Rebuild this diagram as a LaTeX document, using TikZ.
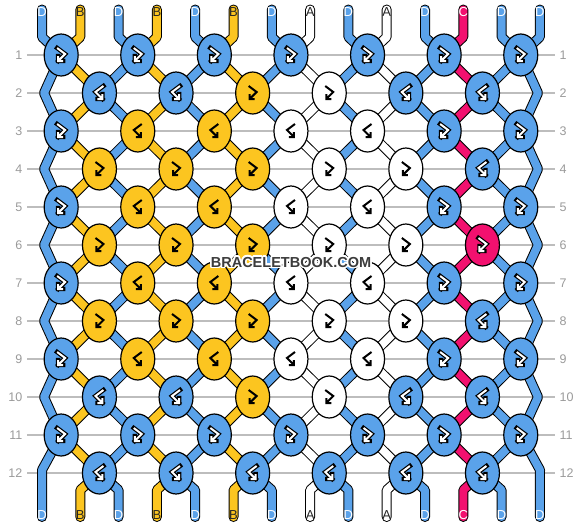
\documentclass[tikz,border=0pt]{standalone}
\usepackage{fontspec}
\setmainfont{Liberation Sans}
\usepackage{contour}
\contourlength{1.6pt}
\usetikzlibrary{shapes.geometric}
\pgfdeclarelayer{bg}
\pgfdeclarelayer{fg}
\pgfsetlayers{bg,main,fg}

\definecolor{strandD}{HTML}{5AA2EA}
\definecolor{strandB}{HTML}{FCC520}
\definecolor{strandA}{HTML}{FFFFFF}
\definecolor{strandC}{HTML}{F2116F}
\definecolor{gridgray}{HTML}{BDBDBD}
\definecolor{numgray}{HTML}{9A9A9A}
\definecolor{wmgray}{HTML}{3C3C3C}
% mark outline / mark stroke / end letter, per thread colour
\colorlet{moD}{black}\colorlet{miD}{white}\colorlet{txD}{white}
\colorlet{moC}{black}\colorlet{miC}{white}\colorlet{txC}{white}
\colorlet{moB}{strandB}\colorlet{miB}{black}\colorlet{txB}{black!85}
\colorlet{moA}{white}\colorlet{miA}{black}\colorlet{txA}{black!85}

\tikzset{
  knot/.style={ellipse, draw=black, line width=1.2pt, fill=strand#1,
    minimum width=34pt, minimum height=42pt, inner sep=0pt},
  strand/.style={draw=black, line width=1pt, double=strand#1,
    double distance=8pt, line cap=round, line join=round,
    shorten <=-3pt, shorten >=-1.5pt},
  endlabel/.style={font=\fontsize{13}{13}\selectfont, text=tx#1, inner sep=0pt},
  rownum/.style={font=\fontsize{12.5}{13}\selectfont, text=numgray,
    inner xsep=4.5pt, inner ysep=0pt},
  gridline/.style={gridgray, line width=1.3pt},
  markout/.style={draw=mo#1, line width=4.4pt, line join=miter, line cap=rect},
  markin/.style={draw=mi#1, line width=2pt, line join=miter},
  fb/.style={},
  bf/.style={xscale=-1},
  pics/knotmark/.style={code={
    \draw[markout=#1] (-4,-7) -- (4,-1) -- (-3,6) (-3,1) -- (-3,6) -- (2,6);
    \draw[markin=#1] (-4,-7) -- (4,-1) -- (-3,6) (-3,1) -- (-3,6) -- (2,6);
  }},
}

\begin{document}
\begin{tikzpicture}[x=1pt, y=-1pt]
\useasboundingbox (0,0) rectangle (582,528);

% row numbers and guide lines
\begin{pgfonlayer}{bg}
\foreach \r in {1,...,12} {
  \node[rownum, anchor=east] (rl-\r) at (27,17+38*\r) {\r};
  \node[rownum, anchor=west] (rr-\r) at (555,17+38*\r) {\r};
  \draw[gridline] (rl-\r) -- (rr-\r);
}
\end{pgfonlayer}

% knots, named by row and right thread
\begin{pgfonlayer}{fg}
\foreach \r/\row in {
  1/{1/D/fb,3/D/fb,5/D/fb,7/D/fb,9/D/fb,11/D/fb,13/D/fb},
  2/{2/D/bf,4/D/bf,6/B/fb,8/A/fb,10/D/bf,12/D/bf},
  3/{1/D/fb,3/B/bf,5/B/bf,7/A/bf,9/A/bf,11/D/fb,13/D/fb},
  4/{2/B/fb,4/B/fb,6/B/fb,8/A/fb,10/A/fb,12/D/bf},
  5/{1/D/fb,3/B/bf,5/B/bf,7/A/bf,9/A/bf,11/D/fb,13/D/fb},
  6/{2/B/fb,4/B/fb,6/B/fb,8/A/fb,10/A/fb,12/C/fb},
  7/{1/D/fb,3/B/bf,5/B/bf,7/A/bf,9/A/bf,11/D/fb,13/D/fb},
  8/{2/B/fb,4/B/fb,6/B/fb,8/A/fb,10/A/fb,12/D/bf},
  9/{1/D/fb,3/B/bf,5/B/bf,7/A/bf,9/A/bf,11/D/fb,13/D/fb},
  10/{2/D/bf,4/D/bf,6/B/fb,8/A/fb,10/D/bf,12/D/bf},
  11/{1/D/fb,3/D/fb,5/D/fb,7/D/fb,9/D/fb,11/D/fb,13/D/fb},
  12/{2/D/bf,4/D/bf,6/D/bf,8/D/bf,10/D/bf,12/D/bf}}
  \foreach \n/\c/\t in \row {
    \node[knot=\c] (k-\r-\n) at (22.85+38.3*\n,17+38*\r) {};
    \pic[\t] at (k-\r-\n) {knotmark=\c};
  }

% thread ends
\foreach \p/\c in {0/D,1/B,2/D,3/B,4/D,5/B,6/D,7/A,8/D,9/A,10/D,11/C,12/D,13/D} {
  \node[endlabel=\c] (t-\p) at (42+38.3*\p,12.5) {\c};
  \node[endlabel=\c] (b-\p) at (42+38.3*\p,515.5) {\c};
  \coordinate (tb-\p) at (42+38.3*\p,37);
  \coordinate (bb-\p) at (42+38.3*\p,490);
}

\node[font=\fontsize{14.5}{14}\selectfont\bfseries, text=wmgray] (wm) at (291,263)
  {\contour{white}{BRACELETBOOK.COM}};
\end{pgfonlayer}

% turning points at the edges
\foreach \r in {2,4,6,8,10} {
  \coordinate (k-\r-0) at (44,17+38*\r);
  \coordinate (k-\r-14) at (538,17+38*\r);
}
\coordinate (k-12-0) at (42,470);
\coordinate (k-12-14) at (540,470);

% threads
\foreach \p/\c in {0/D,1/B,2/D,3/B,4/D,5/B,6/D,7/A,8/D,9/A,10/D,11/C,12/D,13/D}
  \draw[strand=\c] (t-\p.center) -- (tb-\p)
    \foreach \r [evaluate=\r as \n using {int(\p+1-mod(\p+\r+1,2))}] in {1,...,12} {
      -- (k-\r-\n.center) }
    -- (bb-\p) -- (b-\p.center);
\end{tikzpicture}
\end{document}
